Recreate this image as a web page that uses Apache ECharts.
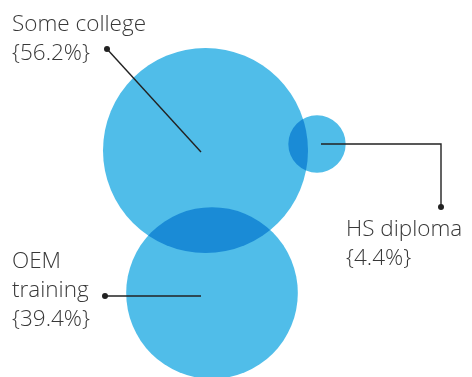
<!DOCTYPE html>
<html><head><meta charset="utf-8">
<script src="https://cdn.jsdelivr.net/npm/echarts@6/dist/echarts.min.js"></script>
<style>html,body{margin:0;padding:0;background:#fff}#c{width:472px;height:377px}</style>
</head><body><div id="c"></div>
<script>
// Data
const categories = ['Some college', 'HS diploma', 'OEM training'];
const shares = [56.2, 4.4, 39.4];
// Layout (chart units = pixels of the 472x377 canvas)
const centers = [[205.5, 150.5], [317, 144], [212, 293]];
const lineEnds = [[201, 152], [321, 144], [201, 296]];
const elbows = [null, [441, 144], null];
const dots = [[107, 49], [441, 207], [105, 296]];
const labelLines = [['Some college', '{56.2%}'], ['HS diploma', '{4.4%}'], ['OEM', 'training', '{39.4%}']];
const labelPos = [[12, 36], [346, 241], [12, 273]]; // x, first line bottom
const lineHeight = 29;
const radiusScale = 102.5 / Math.sqrt(56.2);

const circleData = categories.map((c, i) => [centers[i][0], centers[i][1], shares[i], i]);

function circleShape(api, i) {
  const p = api.coord(centers[i]);
  const r = api.size([radiusScale * Math.sqrt(shares[i]), 0])[0];
  return {cx: p[0], cy: p[1], r: r};
}

const chart = echarts.init(document.getElementById('c'), null, {renderer: 'canvas'});
chart.setOption({
  backgroundColor: '#ffffff',
  animation: false,
  grid: {left: 0, right: 0, top: 0, bottom: 0},
  xAxis: {type: 'value', min: 0, max: 472, show: false},
  yAxis: {type: 'value', min: 0, max: 377, inverse: true, show: false},
  series: [
    {
      type: 'custom',
      coordinateSystem: 'cartesian2d',
      data: circleData,
      z: 1,
      renderItem: function (params, api) {
        const i = api.value(3);
        const p = api.coord([api.value(0), api.value(1)]);
        const r = api.size([radiusScale * Math.sqrt(api.value(2)), 0])[0];
        const children = [{
          type: 'circle',
          shape: {cx: p[0], cy: p[1], r: r},
          style: {fill: '#50bde9'}
        }];
        for (let j = 0; j < i; j++) {
          children.push({
            type: 'circle',
            shape: circleShape(api, j),
            style: {fill: '#1a8bd6'},
            clipPath: {type: 'circle', shape: {cx: p[0], cy: p[1], r: r}}
          });
        }
        return {type: 'group', children: children};
      }
    },
    {
      type: 'custom',
      coordinateSystem: 'cartesian2d',
      data: categories.map((c, i) => [dots[i][0], dots[i][1], i]),
      z: 5,
      renderItem: function (params, api) {
        const i = api.value(2);
        const d = api.coord([api.value(0), api.value(1)]);
        const pts = [d];
        if (elbows[i]) pts.push(api.coord(elbows[i]));
        pts.push(api.coord(lineEnds[i]));
        const children = [
          {type: 'polyline', shape: {points: pts}, style: {stroke: '#222222', lineWidth: 1.4, fill: null}},
          {type: 'circle', shape: {cx: d[0], cy: d[1], r: 3}, style: {fill: '#222222'}}
        ];
        const lp = api.coord(labelPos[i]);
        labelLines[i].forEach((t, k) => {
          children.push({
            type: 'text',
            style: {
              x: lp[0], y: lp[1] + k * lineHeight,
              text: t,
              fill: '#383838',
              font: '300 22.5px "Open Sans", sans-serif',
              textAlign: 'left', textVerticalAlign: 'bottom'
            }
          });
        });
        return {type: 'group', children: children};
      }
    }
  ]
});
</script></body></html>
